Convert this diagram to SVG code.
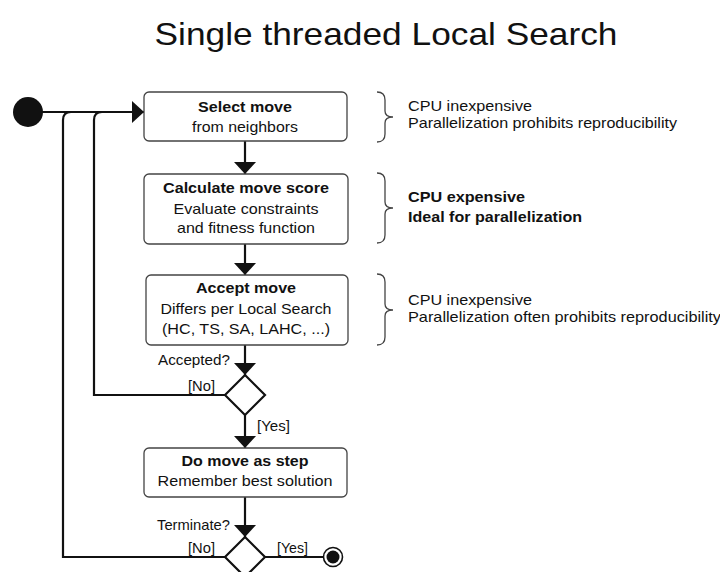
<svg xmlns="http://www.w3.org/2000/svg" width="720" height="572" viewBox="0 0 720 572">
<defs>
<style>
text{font-family:"Liberation Sans",Arial,sans-serif;fill:#111;}
.t{font-size:15px;}
.b{font-size:15px;font-weight:bold;}
.c{text-anchor:middle;}
.box{fill:#fff;stroke:#444;stroke-width:1.3;}
.ln{fill:none;stroke:#111;stroke-width:2.2;}
.br{fill:none;stroke:#444;stroke-width:1.3;}
.dia{fill:#fff;stroke:#111;stroke-width:2.2;}
</style>
<marker id="ah" viewBox="0 0 12 22" refX="12" refY="11" markerWidth="12" markerHeight="22" markerUnits="userSpaceOnUse" orient="auto">
<path d="M0,0 L12,11 L0,22 Z" fill="#111"/>
</marker>
</defs>
<rect width="720" height="572" fill="#fff"/>
<text x="386" y="45" font-size="32" class="c" textLength="463" lengthAdjust="spacingAndGlyphs">Single threaded Local Search</text>

<g id="connectors">
<path class="ln" d="M28,112 H144" marker-end="url(#ah)"/>
<path class="ln" d="M227,557 H63 V120 Q63,112 71,112"/>
<path class="ln" d="M227,395 H94 V120 Q94,112 102,112"/>
<path class="ln" d="M245,141 V174" marker-end="url(#ah)"/>
<path class="ln" d="M245,244 V275" marker-end="url(#ah)"/>
<path class="ln" d="M245,345 V375" marker-end="url(#ah)"/>
<path class="ln" d="M245,415 V448" marker-end="url(#ah)"/>
<path class="ln" d="M245,497 V537" marker-end="url(#ah)"/>
<path class="ln" d="M265,557 H326"/>
</g>

<g id="start"><circle cx="28" cy="112" r="15" fill="#111"/></g>

<g id="select">
<rect class="box" x="144" y="92" width="203" height="49" rx="5"/>
<text class="b c" x="245" y="112" textLength="94" lengthAdjust="spacingAndGlyphs">Select move</text>
<text class="t c" x="245" y="132" textLength="106" lengthAdjust="spacingAndGlyphs">from neighbors</text>
</g>

<g id="calculate">
<rect class="box" x="144" y="174" width="204" height="70" rx="5"/>
<text class="b c" x="246" y="193" textLength="166" lengthAdjust="spacingAndGlyphs">Calculate move score</text>
<text class="t c" x="246" y="214" textLength="145" lengthAdjust="spacingAndGlyphs">Evaluate constraints</text>
<text class="t c" x="246" y="233" textLength="138" lengthAdjust="spacingAndGlyphs">and fitness function</text>
</g>

<g id="accept">
<rect class="box" x="146" y="275" width="202" height="70" rx="5"/>
<text class="b c" x="246" y="293" textLength="100" lengthAdjust="spacingAndGlyphs">Accept move</text>
<text class="t c" x="246" y="314" textLength="171" lengthAdjust="spacingAndGlyphs">Differs per Local Search</text>
<text class="t c" x="246" y="334" textLength="168" lengthAdjust="spacingAndGlyphs">(HC, TS, SA, LAHC, ...)</text>
</g>

<g id="accepted-decision">
<path class="dia" d="M245,375 L265,395 L245,415 L225,395 Z"/>
<text class="t" x="158" y="365" textLength="72" lengthAdjust="spacingAndGlyphs">Accepted?</text>
<text class="t" x="188" y="391" textLength="27" lengthAdjust="spacingAndGlyphs">[No]</text>
<text class="t" x="257" y="431" textLength="33" lengthAdjust="spacingAndGlyphs">[Yes]</text>
</g>

<g id="domove">
<rect class="box" x="144" y="448" width="203" height="49" rx="5"/>
<text class="b c" x="245" y="466" textLength="127" lengthAdjust="spacingAndGlyphs">Do move as step</text>
<text class="t c" x="245" y="486" textLength="175" lengthAdjust="spacingAndGlyphs">Remember best solution</text>
</g>

<g id="terminate-decision">
<path class="dia" d="M245,537 L265,557 L245,577 L225,557 Z"/>
<text class="t" x="157" y="530" textLength="73" lengthAdjust="spacingAndGlyphs">Terminate?</text>
<text class="t" x="188" y="553" textLength="27" lengthAdjust="spacingAndGlyphs">[No]</text>
<text class="t" x="277" y="553" textLength="31" lengthAdjust="spacingAndGlyphs">[Yes]</text>
</g>

<g id="end">
<circle cx="333" cy="557" r="9.5" fill="#fff" stroke="#111" stroke-width="1.6"/>
<circle cx="333" cy="557" r="6.5" fill="#111"/>
</g>

<g id="note1">
<path class="br" d="M377,92 Q385,92 385,100 V111 Q385,117 393,117 Q385,117 385,123 V134 Q385,142 377,142"/>
<text class="t" x="408" y="111" textLength="124" lengthAdjust="spacingAndGlyphs">CPU inexpensive</text>
<text class="t" x="408" y="128" textLength="269" lengthAdjust="spacingAndGlyphs">Parallelization prohibits reproducibility</text>
</g>

<g id="note2">
<path class="br" d="M377,173 Q385,173 385,181 V202 Q385,208 393,208 Q385,208 385,214 V235 Q385,243 377,243"/>
<text class="b" x="408" y="202" textLength="117" lengthAdjust="spacingAndGlyphs">CPU expensive</text>
<text class="b" x="408" y="222" textLength="174" lengthAdjust="spacingAndGlyphs">Ideal for parallelization</text>
</g>

<g id="note3">
<path class="br" d="M377,274 Q385,274 385,282 V304 Q385,310 393,310 Q385,310 385,316 V337 Q385,345 377,345"/>
<text class="t" x="408" y="305" textLength="124" lengthAdjust="spacingAndGlyphs">CPU inexpensive</text>
<text class="t" x="408" y="322" textLength="313" lengthAdjust="spacingAndGlyphs">Parallelization often prohibits reproducibility</text>
</g>
</svg>
